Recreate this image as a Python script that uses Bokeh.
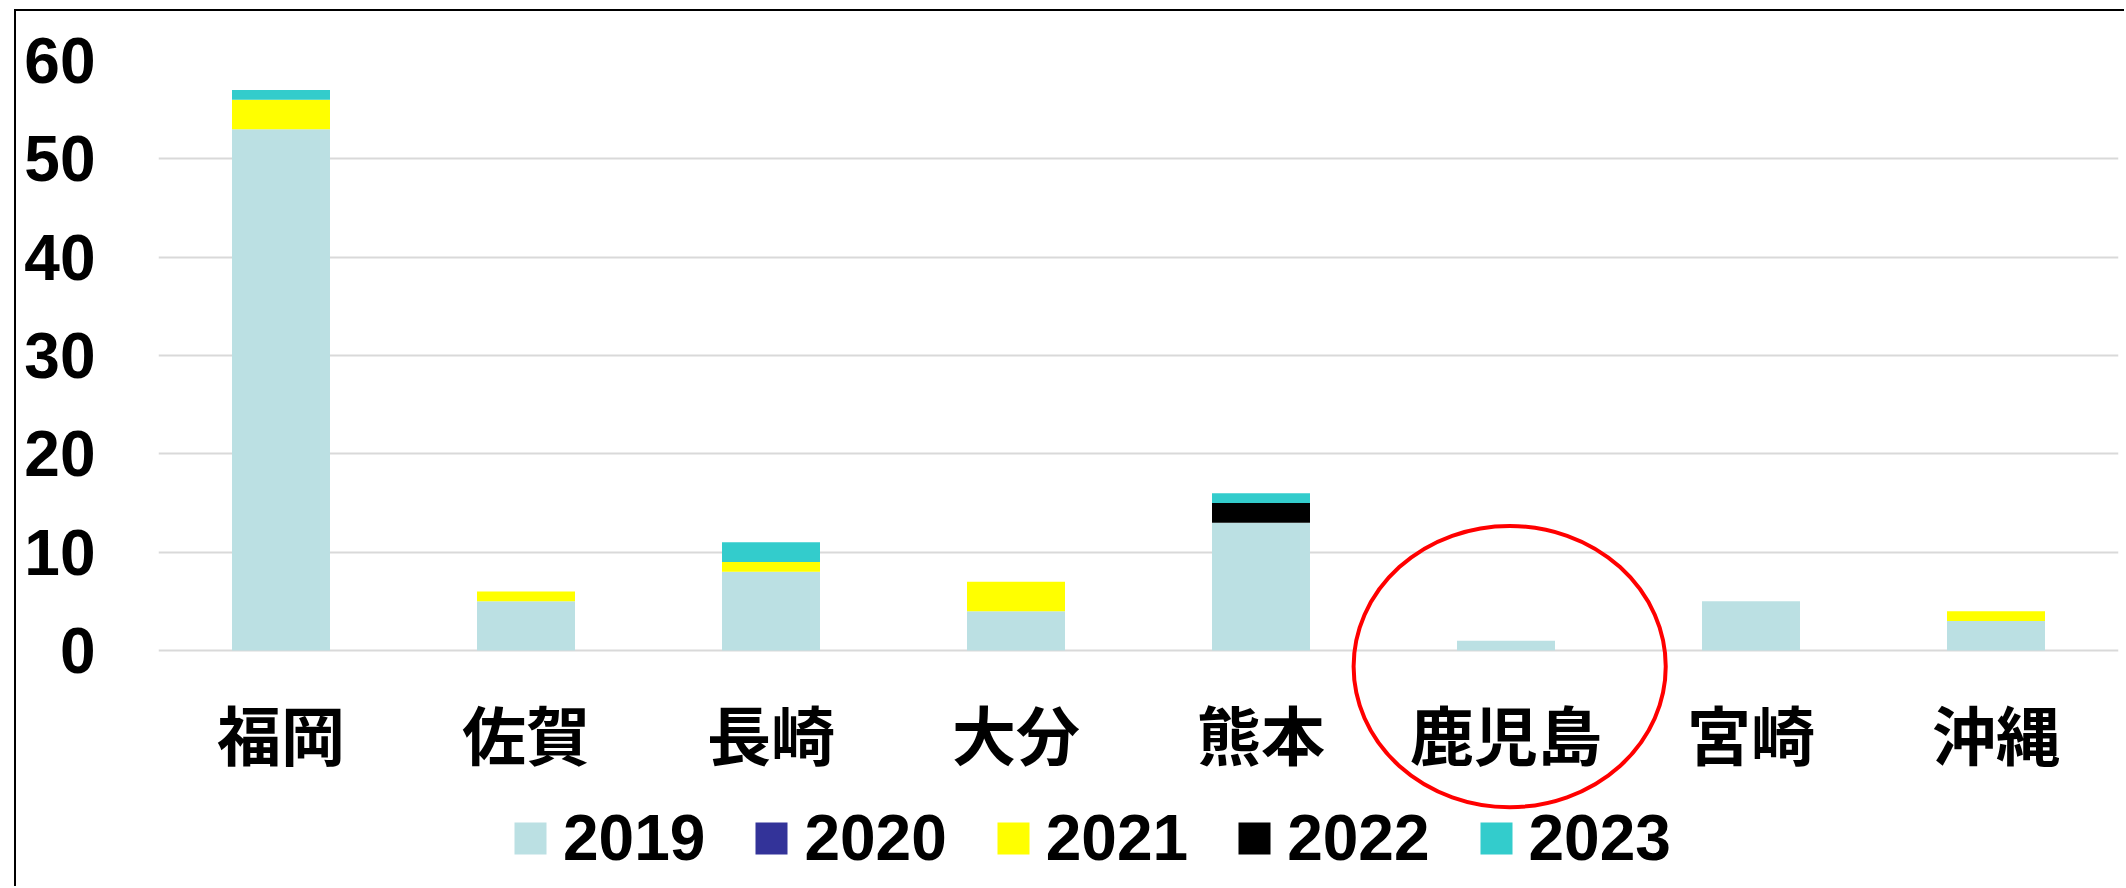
from bokeh.plotting import figure
from bokeh.models import (ColumnDataSource, FactorRange, Range1d, Legend, LegendItem,
                          FixedTicker)
from bokeh.core.properties import value
from bokeh.embed import file_html
from bokeh.resources import INLINE

# ---- data ----
prefectures = ["福岡", "佐賀", "長崎", "大分", "熊本", "鹿児島", "宮崎", "沖縄"]
years = ["2019", "2020", "2021", "2022", "2023"]
v2019 = [53, 5, 8, 4, 13, 1, 5, 3]
v2020 = [0, 0, 0, 0, 0, 0, 0, 0]
v2021 = [3, 1, 1, 3, 0, 0, 0, 1]
v2022 = [0, 0, 0, 0, 2, 0, 0, 0]
v2023 = [1, 0, 2, 0, 1, 0, 0, 0]
y_ticks = [0, 10, 20, 30, 40, 50, 60]
highlight = "鹿児島"

colors = ["#BBE0E3", "#333399", "#FFFF00", "#000000", "#33CCCC"]

source = ColumnDataSource(dict(pref=prefectures, **{"2019": v2019, "2020": v2020,
                                                    "2021": v2021, "2022": v2022,
                                                    "2023": v2023}))

OFF_X, OFF_Y = 16, 11
W, H = 2126 - OFF_X, 888 - OFF_Y
TOP, LEFT = 49, 142            # frame offsets inside canvas
PX_PER_UNIT = (639 - TOP) / 60.0
y_min = -(H - 639) / PX_PER_UNIT   # frame reaches canvas bottom

p = figure(x_range=FactorRange(*prefectures, range_padding=0),
           y_range=Range1d(y_min, 60), width=W, height=H, title=None,
           output_backend="svg", toolbar_location=None,
           min_border_left=LEFT, min_border_right=8, min_border_top=TOP,
           min_border_bottom=0)
p.styles = {"border-left": "2px solid #000", "border-top": "2px solid #000",
            "margin-left": "14px", "margin-top": "9px"}

renderers = p.vbar_stack(years, x="pref", width=0.4, fill_color=colors,
                         line_color=None, source=source)

# category labels (drawn inside the frame so the highlight ellipse can overlay them)
p.text(x=prefectures, y=[-8.3] * len(prefectures), text=prefectures,
       text_font=value("Noto Sans CJK JP"), text_font_style="bold",
       text_font_size="64px", text_color="#000000",
       text_align="center", text_baseline="middle")

# axes
p.xaxis.visible = False
p.yaxis.ticker = FixedTicker(ticks=y_ticks)
p.yaxis.major_label_text_font = "Liberation Sans"
p.yaxis.major_label_text_font_style = "bold"
p.yaxis.major_label_text_font_size = "64px"
p.yaxis.major_label_text_color = "#000000"
p.yaxis.major_label_standoff = 57
p.yaxis.axis_line_color = None
p.yaxis.major_tick_line_color = None
p.yaxis.minor_tick_line_color = None

p.xgrid.grid_line_color = None
p.ygrid.grid_line_color = "#D9D9D9"
p.ygrid.grid_line_width = 2
p.outline_line_color = None
p.background_fill_color = "white"
p.border_fill_color = "white"

# red ellipse highlighting one prefecture
cx = prefectures.index(highlight) + 0.515
p.ellipse(x=[cx], y=[-1.63], width=[1.274], height=[28.6], fill_color=None,
          line_color="#FF0000", line_width=4)

legend = Legend(items=[LegendItem(label=y, renderers=[r]) for y, r in zip(years, renderers)],
                orientation="horizontal", location=(352, 13),
                glyph_width=40, glyph_height=40, label_standoff=13, spacing=46,
                padding=0, margin=0, border_line_color=None, background_fill_alpha=0,
                label_text_font="Liberation Sans", label_text_font_style="bold",
                label_text_font_size="64px", label_text_color="#000000")
p.add_layout(legend, "center")

open("out.html", "w").write(file_html(p, INLINE))
